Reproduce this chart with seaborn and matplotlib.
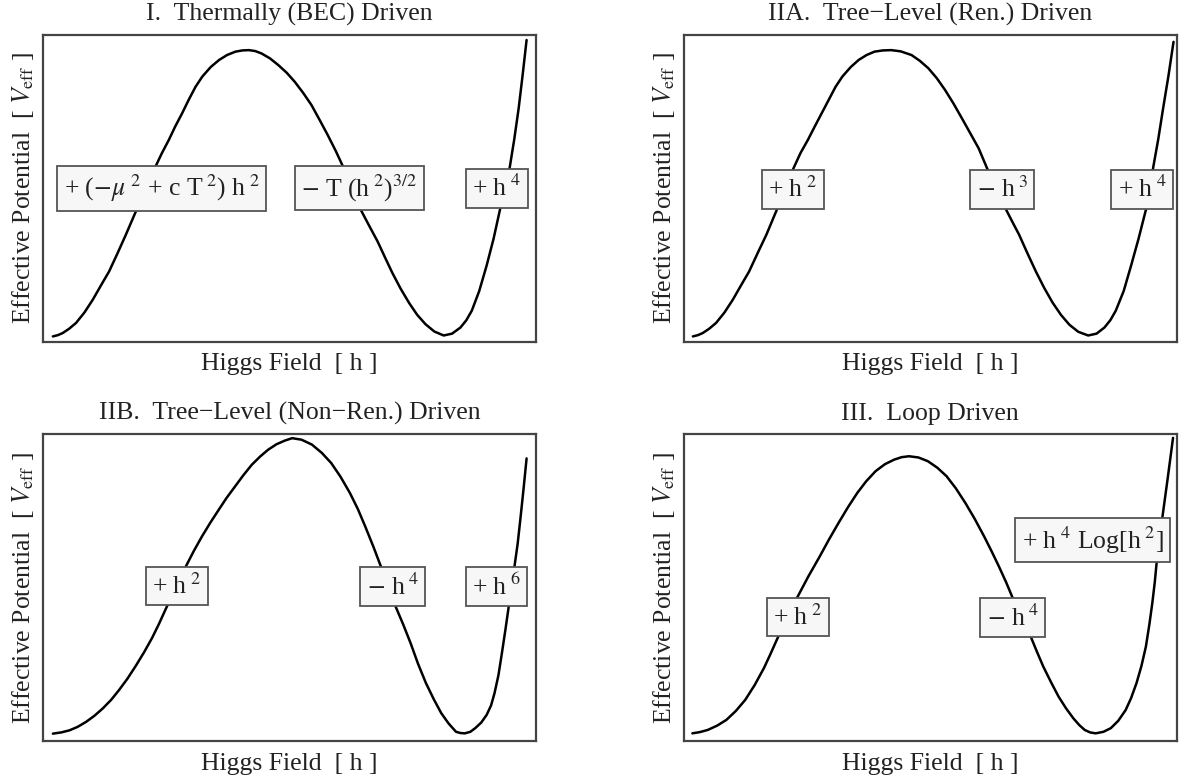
import matplotlib
matplotlib.use("Agg")
import matplotlib.pyplot as plt
import seaborn as sns

# Curves, in box units (h and V both 0..1)
h_bec = [0.020, 0.030, 0.040, 0.053, 0.067, 0.084, 0.101, 0.117, 0.134, 0.151, 0.168,
         0.188, 0.208, 0.228, 0.241, 0.255, 0.268, 0.282, 0.295, 0.309, 0.323, 0.340,
         0.357, 0.373, 0.390, 0.404, 0.417, 0.430, 0.443, 0.460, 0.477, 0.494, 0.510,
         0.527, 0.544, 0.560, 0.577, 0.593, 0.608, 0.626, 0.644, 0.661, 0.678, 0.693,
         0.708, 0.725, 0.742, 0.758, 0.775, 0.793, 0.812, 0.829, 0.846, 0.858, 0.869,
         0.884, 0.899, 0.913, 0.926, 0.936, 0.946, 0.955, 0.964, 0.972, 0.980]
v_bec = [0.017, 0.021, 0.028, 0.042, 0.061, 0.095, 0.137, 0.182, 0.229, 0.288, 0.349,
         0.424, 0.498, 0.571, 0.615, 0.658, 0.702, 0.745, 0.788, 0.831, 0.865, 0.896,
         0.919, 0.935, 0.946, 0.950, 0.951, 0.948, 0.940, 0.924, 0.902, 0.877, 0.848,
         0.812, 0.772, 0.725, 0.674, 0.623, 0.571, 0.500, 0.430, 0.378, 0.327, 0.275,
         0.224, 0.172, 0.126, 0.088, 0.057, 0.033, 0.020, 0.026, 0.046, 0.070, 0.101,
         0.165, 0.248, 0.335, 0.430, 0.500, 0.570, 0.660, 0.762, 0.870, 0.984]

h_ren = [0.019, 0.029, 0.039, 0.052, 0.066, 0.083, 0.100, 0.116, 0.133, 0.150, 0.168,
         0.189, 0.206, 0.223, 0.237, 0.252, 0.266, 0.280, 0.294, 0.308, 0.322, 0.339,
         0.355, 0.371, 0.387, 0.404, 0.421, 0.440, 0.462, 0.479, 0.496, 0.513, 0.530,
         0.547, 0.564, 0.581, 0.598, 0.615, 0.633, 0.652, 0.666, 0.680, 0.697, 0.714,
         0.731, 0.748, 0.765, 0.782, 0.800, 0.820, 0.837, 0.853, 0.865, 0.876, 0.892,
         0.907, 0.922, 0.937, 0.945, 0.952, 0.962, 0.972, 0.983, 0.993]
v_ren = [0.017, 0.021, 0.028, 0.042, 0.061, 0.095, 0.137, 0.182, 0.229, 0.288, 0.349,
         0.430, 0.500, 0.566, 0.615, 0.658, 0.702, 0.745, 0.788, 0.831, 0.865, 0.896,
         0.919, 0.935, 0.946, 0.950, 0.951, 0.947, 0.935, 0.916, 0.892, 0.860, 0.821,
         0.777, 0.729, 0.680, 0.631, 0.566, 0.500, 0.436, 0.392, 0.349, 0.288, 0.229,
         0.175, 0.127, 0.087, 0.055, 0.032, 0.020, 0.026, 0.046, 0.070, 0.101, 0.165,
         0.248, 0.335, 0.430, 0.500, 0.570, 0.660, 0.762, 0.870, 0.978]

h_nonren = [0.020, 0.037, 0.054, 0.070, 0.087, 0.104, 0.121, 0.138, 0.154, 0.171, 0.188,
            0.205, 0.221, 0.235, 0.248, 0.269, 0.290, 0.306, 0.322, 0.339, 0.356, 0.372,
            0.389, 0.406, 0.423, 0.440, 0.456, 0.473, 0.490, 0.505, 0.524, 0.545, 0.565,
            0.584, 0.603, 0.622, 0.638, 0.653, 0.670, 0.686, 0.700, 0.714, 0.730, 0.745,
            0.760, 0.776, 0.792, 0.807, 0.822, 0.837, 0.846, 0.855, 0.866, 0.876, 0.888,
            0.899, 0.908, 0.915, 0.923, 0.930, 0.937, 0.944, 0.950, 0.955, 0.962, 0.968,
            0.974, 0.980]
v_nonren = [0.024, 0.028, 0.035, 0.046, 0.062, 0.082, 0.106, 0.134, 0.166, 0.203, 0.245,
            0.290, 0.336, 0.382, 0.428, 0.500, 0.571, 0.621, 0.667, 0.712, 0.754, 0.793,
            0.830, 0.867, 0.901, 0.928, 0.950, 0.968, 0.980, 0.988, 0.983, 0.967, 0.940,
            0.907, 0.862, 0.809, 0.757, 0.700, 0.632, 0.564, 0.502, 0.441, 0.380, 0.319,
            0.252, 0.189, 0.136, 0.091, 0.057, 0.030, 0.026, 0.025, 0.030, 0.042, 0.060,
            0.085, 0.116, 0.156, 0.215, 0.287, 0.362, 0.441, 0.502, 0.564, 0.645, 0.733,
            0.825, 0.922]

h_loop = [0.018, 0.033, 0.049, 0.068, 0.087, 0.106, 0.125, 0.144, 0.163, 0.176, 0.189,
          0.210, 0.231, 0.253, 0.276, 0.295, 0.314, 0.333, 0.352, 0.370, 0.389, 0.408,
          0.427, 0.442, 0.457, 0.476, 0.495, 0.514, 0.533, 0.552, 0.571, 0.590, 0.609,
          0.624, 0.639, 0.654, 0.668, 0.686, 0.703, 0.716, 0.729, 0.745, 0.760, 0.775,
          0.790, 0.802, 0.813, 0.824, 0.835, 0.851, 0.866, 0.881, 0.896, 0.907, 0.918,
          0.928, 0.937, 0.944, 0.950, 0.955, 0.959, 0.965, 0.970, 0.981, 0.992]
v_loop = [0.025, 0.029, 0.036, 0.050, 0.069, 0.098, 0.134, 0.182, 0.238, 0.283, 0.330,
          0.402, 0.470, 0.537, 0.602, 0.658, 0.711, 0.762, 0.809, 0.847, 0.880, 0.903,
          0.918, 0.926, 0.929, 0.925, 0.913, 0.892, 0.864, 0.824, 0.777, 0.725, 0.668,
          0.620, 0.570, 0.517, 0.463, 0.402, 0.343, 0.292, 0.243, 0.191, 0.145, 0.107,
          0.074, 0.052, 0.036, 0.028, 0.025, 0.030, 0.042, 0.066, 0.101, 0.140, 0.189,
          0.245, 0.308, 0.380, 0.450, 0.518, 0.586, 0.655, 0.725, 0.855, 0.989]

titles = ["I.  Thermally (BEC) Driven",
          "IIA.  Tree\u2212Level (Ren.) Driven",
          "IIB.  Tree\u2212Level (Non\u2212Ren.) Driven",
          "III.  Loop Driven"]

term_labels = [
    [r"+ ($-\mu^{\ 2}$ + c T$^{\ 2}$) h$^{\ 2}$", r"$-$ T (h$^{\ 2}$)$^{3/2}$", r"+ h$^{\ 4}$"],
    [r"+ h$^{\ 2}$", r"$-$ h$^{\ 3}$", r"+ h$^{\ 4}$"],
    [r"+ h$^{\ 2}$", r"$-$ h$^{\ 4}$", r"+ h$^{\ 6}$"],
    [r"+ h$^{\ 2}$", r"$-$ h$^{\ 4}$", r"+ h$^{\ 4}$ Log[h$^{\ 2}$]"],
]
# where each term box sits, in axes fraction
term_pos = [
    [(0.241, 0.50), (0.641, 0.50), (0.920, 0.50)],
    [(0.221, 0.497), (0.646, 0.497), (0.930, 0.497)],
    [(0.271, 0.505), (0.709, 0.503), (0.919, 0.503)],
    [(0.232, 0.405), (0.667, 0.403), (0.829, 0.655)],
]

sns.set_style("white")
plt.rcParams["font.family"] = ["Liberation Serif", "DejaVu Serif"]
plt.rcParams["mathtext.fontset"] = "stix"

FS = 18.5

fig, axes = plt.subplots(2, 2, figsize=(11.81, 7.8), dpi=100)
plt.subplots_adjust(left=0.0364, right=0.9966, bottom=0.05, top=0.955,
                    wspace=0.298, hspace=0.303)

curves = [(h_bec, v_bec), (h_ren, v_ren), (h_nonren, v_nonren), (h_loop, v_loop)]

for i, ax in enumerate(axes.flat):
    hx, vy = curves[i]
    sns.lineplot(x=hx, y=vy, ax=ax, color="black", linewidth=1.8, estimator=None)
    ax.set_xlim(0, 1)
    ax.set_ylim(0, 1)
    ax.set_xticks([])
    ax.set_yticks([])
    for sp in ax.spines.values():
        sp.set_visible(True)
        sp.set_color("#444444")
        sp.set_linewidth(1.6)
    ax.set_title(titles[i], fontsize=FS, color="#222222", pad=10.5)
    ax.set_xlabel("Higgs Field  [ h ]", fontsize=FS, color="#222222", labelpad=8.5)
    ax.set_ylabel(r"Effective Potential  [ $V_{\rm eff}$ ]", fontsize=FS,
                  color="#222222", labelpad=5)
    for txt, (px, py) in zip(term_labels[i], term_pos[i]):
        ax.text(px, py, txt, transform=ax.transAxes, ha="center", va="center",
                fontsize=FS, color="#222222", zorder=5,
                bbox=dict(boxstyle="square,pad=0.25", facecolor="#f7f7f7",
                          edgecolor="#555555", linewidth=1.3))

fig.savefig("out.png", dpi=100)
